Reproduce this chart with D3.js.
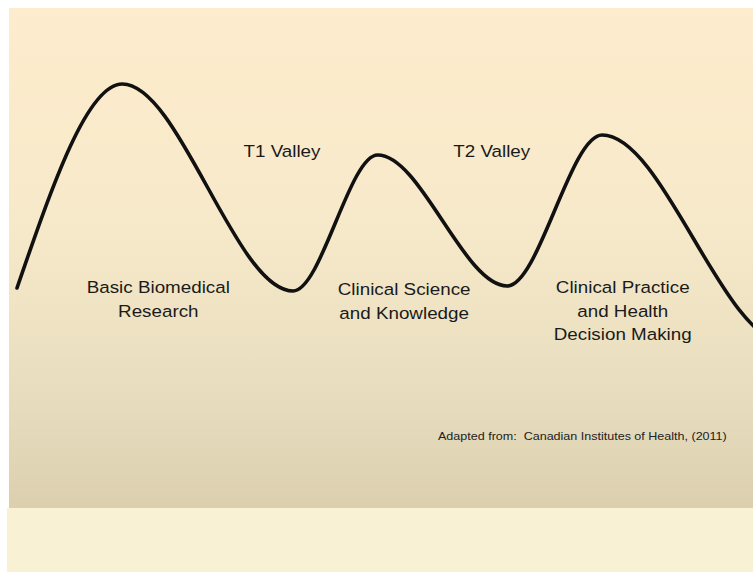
<!DOCTYPE html>
<html>
<head>
<meta charset="utf-8">
<script src="https://cdn.jsdelivr.net/npm/d3@7"></script>
<style>
	body { margin: 0; background: #ffffff; }
	svg { display: block; }
</style>
</head>
<body>
<div id="chart"></div>
<script>
	//Width and height
	var w = 753;
	var h = 572;

	//Turning points of the pathway curve
	//progress along the pathway (0-100) and level (0-100); the last two lie past the right edge
	var progress = [0, 14.3, 37.5, 49.0, 66.6, 79.5, 104.3, 112];
	var level = [16.8, 98.4, 15.6, 70, 17.6, 78, -4.8, 8];

	//Stage labels under the curve and valley labels above it
	var stageLabels = [
		["Basic Biomedical", "Research"],
		["Clinical Science", "and Knowledge"],
		["Clinical Practice", "and Health", "Decision Making"]
	];
	var stagePos = [19.2, 52.6, 82.3];
	var valleyLabels = ["T1 Valley", "T2 Valley"];
	var valleyPos = [36, 64.5];
	var source = "Adapted from:  Canadian Institutes of Health, (2011)";

	var xScale = d3.scaleLinear().domain([0, 100]).range([17, 753]);
	var yScale = d3.scaleLinear().domain([0, 100]).range([330, 80]);

	var svg = d3.select("#chart")
		.append("svg")
		.attr("width", w)
		.attr("height", h);

	//Background gradient
	var defs = svg.append("defs");
	var grad = defs.append("linearGradient")
		.attr("id", "bg")
		.attr("x1", 0).attr("y1", 0)
		.attr("x2", 0).attr("y2", 1);
	grad.append("stop").attr("offset", "0%").attr("stop-color", "#fdeccd");
	grad.append("stop").attr("offset", "45%").attr("stop-color", "#f6e9c9");
	grad.append("stop").attr("offset", "80%").attr("stop-color", "#e6dcbd");
	grad.append("stop").attr("offset", "100%").attr("stop-color", "#dbcfae");

	defs.append("clipPath")
		.attr("id", "panel")
		.append("rect")
		.attr("x", 9).attr("y", 8)
		.attr("width", w - 9).attr("height", 500);

	svg.append("rect")
		.attr("x", 9).attr("y", 8)
		.attr("width", w - 9).attr("height", 500)
		.attr("fill", "url(#bg)");

	svg.append("rect")
		.attr("x", 7).attr("y", 508)
		.attr("width", w - 7).attr("height", h - 508)
		.attr("fill", "#f9f1d3");

	//Pathway curve, smooth through the peaks and troughs
	var line = d3.line()
		.x(function (d) { return xScale(d[0]); })
		.y(function (d) { return yScale(d[1]); })
		.curve(d3.curveMonotoneX);

	svg.append("path")
		.datum(d3.zip(progress, level))
		.attr("clip-path", "url(#panel)")
		.attr("d", line)
		.attr("fill", "none")
		.attr("stroke", "#111")
		.attr("stroke-width", 3.6)
		.attr("stroke-linecap", "round");

	//Text is a little wider than tall in the picture
	var stretch = 1.14;

	//Stage labels
	stageLabels.forEach(function (lines, i) {
		lines.forEach(function (t, j) {
			svg.append("text")
				.attr("transform", "translate(" + xScale(stagePos[i]) + "," + (293 + j * 23.5 + (i == 1 ? 2 : 0)) + ")scale(" + stretch + ",1)")
				.attr("text-anchor", "middle")
				.attr("font-family", "Liberation Sans, Arial, sans-serif")
				.attr("font-size", "16.5px")
				.attr("fill", "#1a1a1a")
				.text(t);
		});
	});

	//Valley labels
	valleyLabels.forEach(function (t, i) {
		svg.append("text")
			.attr("transform", "translate(" + xScale(valleyPos[i]) + ",157)scale(" + stretch + ",1)")
			.attr("text-anchor", "middle")
			.attr("font-family", "Liberation Sans, Arial, sans-serif")
			.attr("font-size", "16.5px")
			.attr("fill", "#1a1a1a")
			.text(t);
	});

	//Source note
	svg.append("text")
		.attr("transform", "translate(438,440)scale(1.12,1)")
		.attr("font-family", "Liberation Sans, Arial, sans-serif")
		.attr("font-size", "11.2px")
		.attr("fill", "#222")
		.attr("xml:space", "preserve")
		.style("white-space", "pre")
		.text(source);
</script>
</body>
</html>
